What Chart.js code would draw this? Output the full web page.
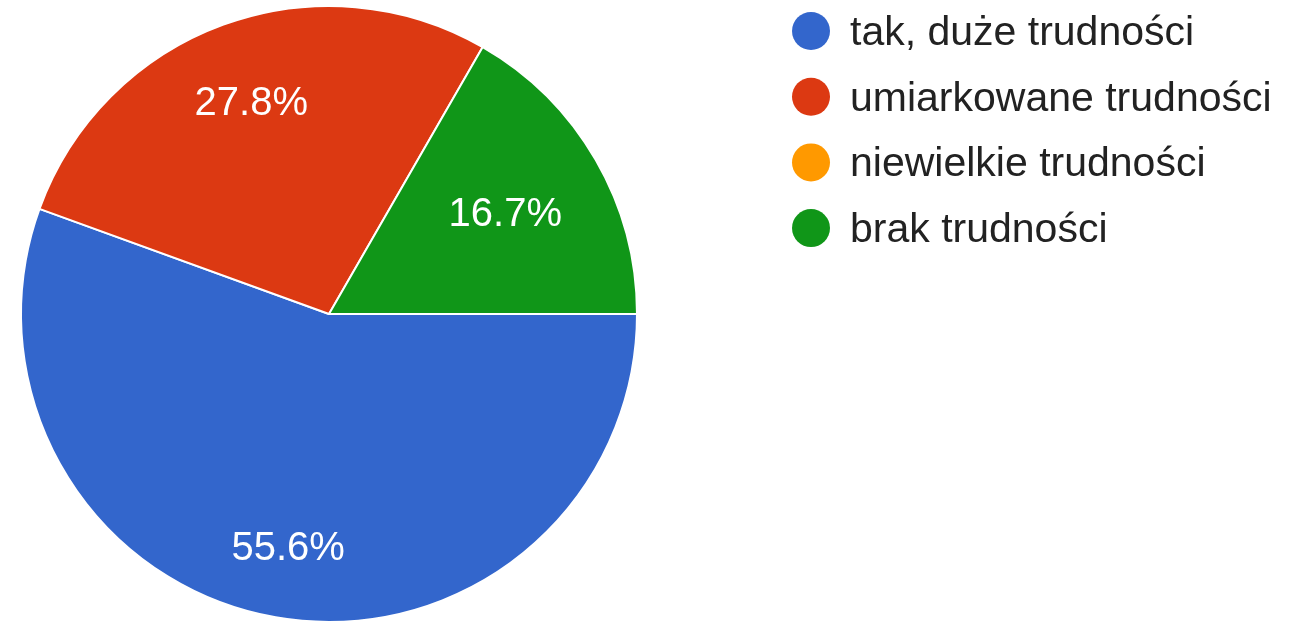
<!DOCTYPE html>
<html>
<head>
<meta charset="utf-8">
<script src="https://cdn.jsdelivr.net/npm/chart.js@4/dist/chart.umd.min.js"></script>
<style>
  html, body { margin: 0; padding: 0; background: #fff; }
  #wrap { width: 1301px; height: 623px; }
</style>
</head>
<body>
<div id="wrap"><canvas id="chart-pie" width="1301" height="623"></canvas></div>
<script>
  /*  ---------------------------- DATA ----------------------------  */
  const labels = [
    "tak, duże trudności",
    "umiarkowane trudności",
    "niewielkie trudności",
    "brak trudności",
  ];
  const values = [55.6, 27.8, 0, 16.7]; // procent odpowiedzi
  const colors = ["#3366CC", "#DC3912", "#FF9900", "#109618"];
  /*  --------------------------------------------------------------  */

  const FONT = '"Liberation Sans", Arial, sans-serif';

  // podpisy procentowe wewnątrz wycinków
  const sliceLabels = {
    id: "sliceLabels",
    afterDatasetsDraw(chart) {
      const { ctx } = chart;
      const meta = chart.getDatasetMeta(0);
      ctx.save();
      ctx.font = `40px ${FONT}`;
      ctx.fillStyle = "#fff";
      ctx.textAlign = "center";
      ctx.textBaseline = "middle";
      meta.data.forEach((arc, i) => {
        const v = values[i];
        if (!v) return;
        const text = v.toFixed(1) + "%";
        const mid = (arc.startAngle + arc.endAngle) / 2;
        const hw = ctx.measureText(text).width / 2;
        const hh = 15;
        const c = Math.cos(mid), s = Math.sin(mid);
        // zewnętrzna krawędź tekstu na stałym promieniu
        const dist = arc.outerRadius * 0.845 - (Math.abs(c) * hw + Math.abs(s) * hh);
        ctx.fillText(text, arc.x + c * dist, arc.y + s * dist + 3);
      });
      ctx.restore();
    },
  };

  // legenda po prawej stronie
  const sideLegend = {
    id: "sideLegend",
    afterDraw(chart) {
      const { ctx } = chart;
      ctx.save();
      ctx.font = `41px ${FONT}`;
      ctx.textAlign = "left";
      ctx.textBaseline = "alphabetic";
      labels.forEach((label, i) => {
        const y = 31 + i * 65.7;
        ctx.beginPath();
        ctx.arc(811, y, 19, 0, Math.PI * 2);
        ctx.fillStyle = colors[i];
        ctx.fill();
        ctx.fillStyle = "#222";
        ctx.fillText(label, 850, y + 14);
      });
      ctx.restore();
    },
  };

  const ctx = document.getElementById("chart-pie").getContext("2d");

  new Chart(ctx, {
    type: "pie",
    data: {
      labels: labels,
      datasets: [
        {
          data: values,
          backgroundColor: colors,
          borderColor: "#fff",
          borderWidth: 2,
          hoverOffset: 0,
        },
      ],
    },
    options: {
      responsive: false,
      animation: false,
      rotation: 90, // start od godziny 3
      events: [],
      plugins: {
        legend: { display: false },
        tooltip: { enabled: false },
      },
      layout: {
        padding: { top: 5, bottom: 0, left: 20, right: 663 },
      },
    },
    plugins: [sliceLabels, sideLegend],
  });
</script>
</body>
</html>
